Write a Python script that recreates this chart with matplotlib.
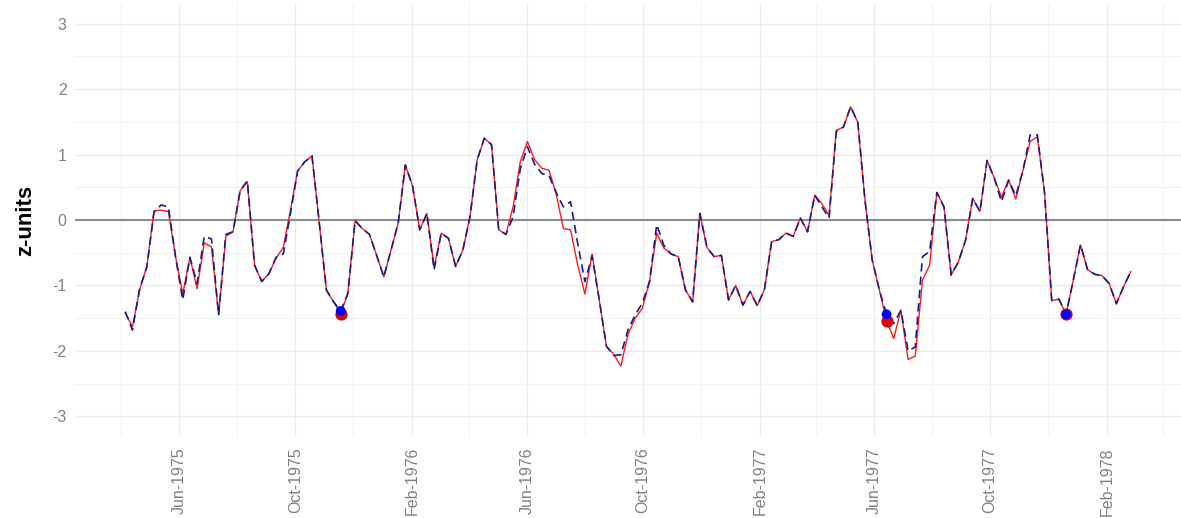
import matplotlib
matplotlib.use("Agg")
import matplotlib.pyplot as plt
import matplotlib.dates as mdates
import pandas as pd

plt.rcParams['font.family'] = ['Liberation Sans', 'DejaVu Sans']
plt.rcParams['axes.unicode_minus'] = False

# weekly-ish observations, Apr 1975 .. Feb 1978
dates = pd.date_range('1975-04-05', '1978-02-26', periods=141)

z_red = [-1.42, -1.63, -1.07, -0.71, 0.14, 0.15, 0.13, -0.56, -1.13, -0.57,
         -1.05, -0.35, -0.41, -1.45, -0.25, -0.18, 0.45, 0.58, -0.69, -0.94,
         -0.82, -0.58, -0.42, 0.15, 0.75, 0.89, 0.98, -0.03, -1.07, -1.25,
         -1.43, -1.12, -0.01, -0.13, -0.22, -0.54, -0.87, -0.46, -0.05, 0.84,
         0.52, -0.15, 0.10, -0.72, -0.20, -0.28, -0.71, -0.46, 0.05, 0.92,
         1.25, 1.15, -0.15, -0.22, 0.20, 0.89, 1.20, 0.92, 0.79, 0.76,
         0.40, -0.13, -0.15, -0.69, -1.13, -0.52, -1.22, -1.93, -2.05, -2.23,
         -1.75, -1.50, -1.35, -0.94, -0.20, -0.43, -0.52, -0.56, -1.07, -1.25,
         0.10, -0.42, -0.56, -0.54, -1.22, -1.00, -1.30, -1.09, -1.31, -1.06,
         -0.33, -0.30, -0.20, -0.25, 0.03, -0.18, 0.38, 0.25, 0.07, 1.37,
         1.42, 1.73, 1.49, 0.30, -0.61, -1.07, -1.54, -1.81, -1.38, -2.13,
         -2.08, -0.92, -0.69, 0.42, 0.20, -0.84, -0.64, -0.31, 0.33, 0.13,
         0.91, 0.64, 0.35, 0.61, 0.32, 0.76, 1.20, 1.27, 0.42, -1.23,
         -1.21, -1.44, -0.92, -0.38, -0.76, -0.83, -0.85, -0.97, -1.28, -1.02,
         -0.79]

z_blue = [-1.40, -1.68, -1.05, -0.72, 0.12, 0.23, 0.20, -0.56, -1.22, -0.57,
          -0.97, -0.25, -0.29, -1.45, -0.22, -0.18, 0.45, 0.60, -0.69, -0.94,
          -0.82, -0.57, -0.52, 0.10, 0.75, 0.89, 0.98, -0.03, -1.07, -1.25,
          -1.39, -1.12, -0.01, -0.13, -0.22, -0.54, -0.87, -0.46, -0.05, 0.84,
          0.52, -0.15, 0.10, -0.76, -0.20, -0.28, -0.71, -0.46, 0.05, 0.92,
          1.25, 1.15, -0.15, -0.22, 0.05, 0.78, 1.12, 0.85, 0.71, 0.68,
          0.42, 0.20, 0.28, -0.36, -0.94, -0.55, -1.22, -1.93, -2.07, -2.06,
          -1.68, -1.45, -1.27, -0.94, -0.07, -0.39, -0.52, -0.56, -1.07, -1.25,
          0.10, -0.42, -0.56, -0.54, -1.22, -1.00, -1.30, -1.09, -1.31, -1.06,
          -0.33, -0.30, -0.20, -0.25, 0.03, -0.18, 0.38, 0.20, 0.03, 1.35,
          1.42, 1.73, 1.49, 0.30, -0.61, -1.07, -1.44, -1.58, -1.38, -2.00,
          -1.94, -0.56, -0.48, 0.42, 0.20, -0.84, -0.64, -0.31, 0.33, 0.13,
          0.91, 0.64, 0.28, 0.61, 0.37, 0.76, 1.30, 1.30, 0.42, -1.23,
          -1.21, -1.44, -0.92, -0.38, -0.76, -0.83, -0.85, -0.97, -1.28, -1.02,
          -0.79]

# observations flagged with a dot
flagged = [30, 106, 131]

fig = plt.figure(figsize=(11.81, 5.18), dpi=100)
ax = fig.add_axes([75 / 1181, 82 / 518, 1106 / 1181, 432 / 518])

ax.axhline(0, color='#8c8c8c', lw=1.5, zorder=2)
ax.plot(dates, z_red, color='#ff1a1a', lw=1.0, zorder=3)
ax.plot(dates, z_blue, color='#1a1a8c', lw=1.2, dashes=(5, 3), zorder=4)

ax.scatter(dates[flagged], [z_red[i] for i in flagged], s=60, color='#e60000',
           edgecolor='#cc0000', zorder=5)
ax.scatter(dates[flagged], [z_blue[i] for i in flagged], s=50, color='#0000ff',
           edgecolor='none', zorder=6)

ax.set_ylim(-3.3, 3.3)
ax.set_yticks([-3, -2, -1, 0, 1, 2, 3])
ax.set_yticks([-2.5, -1.5, -0.5, 0.5, 1.5, 2.5], minor=True)
ax.margins(x=0.05)

ax.xaxis.set_major_locator(mdates.MonthLocator(bymonth=[2, 6, 10]))
ax.xaxis.set_minor_locator(mdates.MonthLocator(bymonth=[4, 8, 12]))
ax.xaxis.set_major_formatter(mdates.DateFormatter('%b-%Y'))

ax.grid(True, which='major', color='#ebebeb', lw=1.0)
ax.grid(True, which='minor', color='#f2f2f2', lw=0.8)
ax.set_axisbelow(True)
for s in ax.spines.values():
    s.set_visible(False)

ax.tick_params(axis='both', which='both', length=0, labelsize=11.5, labelcolor='#808080')
ax.tick_params(axis='y', pad=6)
ax.tick_params(axis='x', pad=8)
plt.setp(ax.get_xticklabels(), rotation=90, ha='center', va='top')

ax.set_ylabel('z-units', fontsize=16, fontweight='bold', color='black', labelpad=12)

fig.savefig('out.png', dpi=100)
